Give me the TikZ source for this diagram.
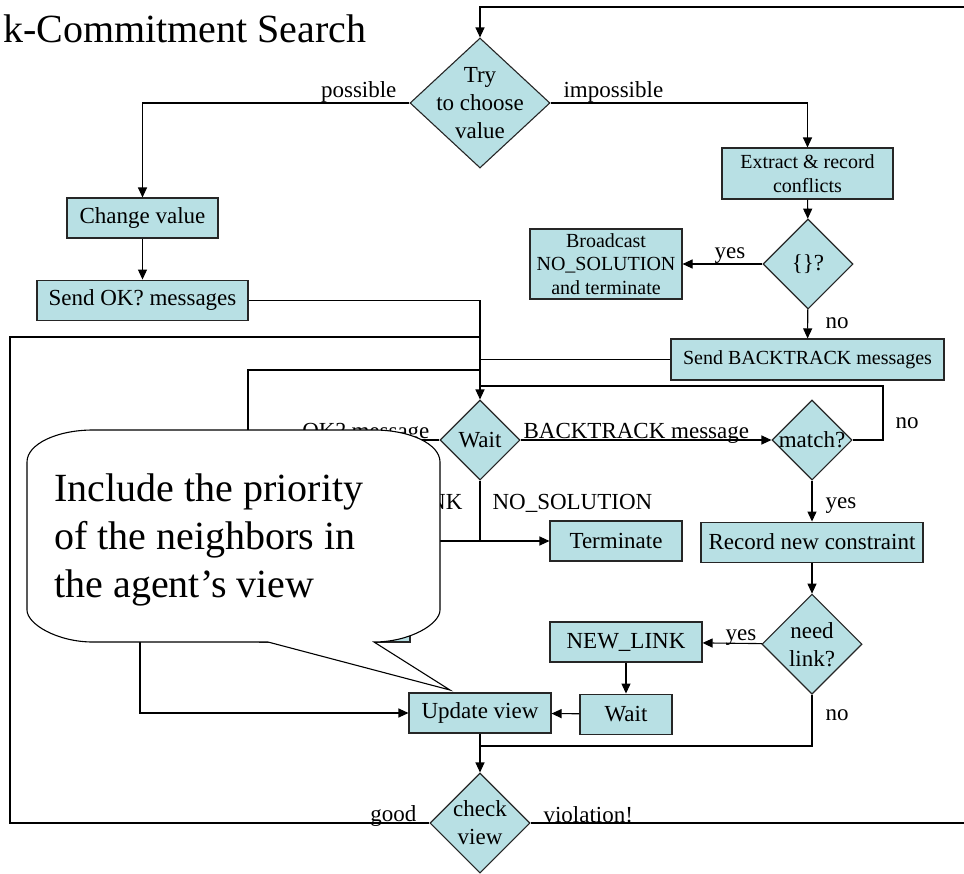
\documentclass[tikz,border=0pt]{standalone}
\usepackage{fontspec}
\setmainfont{Liberation Serif}
\usetikzlibrary{shapes.geometric, arrows.meta, positioning}
\definecolor{flowblue}{RGB}{184,224,228}
\newcommand{\flowfont}{\fontsize{23}{28}\selectfont}
\newcommand{\smallflow}{\fontsize{20}{23.5}\selectfont}

\begin{document}
\begin{tikzpicture}
        [
            x=1pt, y=-1pt, line width=1.1pt,
            >={Triangle[length=10pt, width=9pt]},
            box/.style={rectangle, draw=black!85, fill=flowblue, inner sep=0pt,
                        minimum height=40pt, font=\flowfont, align=center},
            decision/.style={diamond, draw=black!85, fill=flowblue, inner sep=0pt,
                             label={[font=\flowfont, align=center]center:#1}},
            lbl/.style={font=\flowfont, inner sep=0pt}
        ]
        \useasboundingbox (0,0) rectangle (964,873);
        \node (title) [anchor=base east, inner sep=0pt, font={\fontsize{40}{48}\selectfont}] at (367,42) {k-Commitment Search};

        \node (try) [decision={Try\\to choose\\value}, minimum width=140pt, minimum height=130pt] at (480,103) {};
        \node (change) [box, minimum width=151pt] at (142.5,218) {Change value};
        \node (sendok) [box, minimum width=211pt, below=41pt of change] {Send OK? messages};
        \node (extract) [box, minimum width=171pt, minimum height=51pt, font=\smallflow] at (807.5,173.5) {Extract \& record\\conflicts};
        \node (empty) [decision={\{\}?}, minimum width=90pt, minimum height=90pt] at (808,264) {};
        \node (broadcast) [box, minimum width=152pt, minimum height=70pt, font=\smallflow] at (606,264) {Broadcast\\NO\_SOLUTION\\and terminate};
        \node (sendbt) [box, minimum width=273pt, minimum height=41pt, font=\smallflow] at (807.5,359.5) {Send BACKTRACK messages};
        \node (wait) [decision=Wait, minimum width=80pt, minimum height=80pt] at (480,440) {};
        \node (match) [decision=match?, minimum width=80pt, minimum height=80pt] at (812,440) {};
        \node (term) [box, minimum width=132pt] at (616,541) {Terminate};
        \node (record) [box, minimum width=222pt, below=41pt of match] {Record new constraint};
        \node (needlink) [decision={need\\link?}, minimum width=100pt, minimum height=100pt, below=31pt of record] {};
        \node (newlink) [box, minimum width=152pt] at (626,642) {NEW\_LINK};
        \node (waitbox) [box, minimum width=92pt, below=31pt of newlink] {Wait};
        \node (update) [box, minimum width=142pt] at (480,713) {Update view};
        \node (check) [decision={check\\view}, minimum width=100pt, minimum height=100pt] at (480,823) {};
        \node (addlink) [box, minimum width=150pt] at (335,622) {};

        \coordinate (edge) at (975,7);
        \coordinate (lft) at (10,337);
        \coordinate (back) at (248,370);
        \coordinate (nobend) at (883,386);
        \coordinate (okbend) at (140,713);
        \coordinate (merge) at (480,746);

        \draw [->] (check.east) -| (edge) -| (try.north);
        \draw [->] (try.west) -| (change.north);
        \draw [->] (change) -- (sendok);
        \draw [->] (sendok.east) -| (wait.north);
        \draw [->] (try.east) -| (extract.north);
        \draw [->] (extract) -- (empty);
        \draw [->] (empty) -- (broadcast);
        \draw [->] (empty) -- (sendbt);
        \draw (sendbt.west) -- (sendbt.west -| wait.north);
        \draw (check.west) -| (lft) -- (lft -| wait.north);
        \draw (addlink.west) -| (back) -- (back -| wait.north);
        \draw (match.east) -| (nobend) -- (nobend -| wait.north);
        \draw [->] (wait) -- (match);
        \draw [->] (wait.south) |- (term.west);
        \draw [->] (wait.south |- term.west) -| (addlink.north);
        \draw [->] (wait.west) -| (okbend) -- (update.west);
        \draw [->] (match) -- (record);
        \draw [->] (record) -- (needlink);
        \draw [->] (needlink) -- (newlink);
        \draw [->] (newlink) -- (waitbox);
        \draw [->] (waitbox) -- (update);
        \draw [->] (update) -- (check);
        \draw (needlink.south) |- (merge);

        \node (l-possible) [lbl, anchor=base east] at (397,97) {possible};
        \node (l-impossible) [lbl, anchor=base west] at (563,97) {impossible};
        \node (l-empty-yes) [lbl, anchor=base west] at (714,258) {yes};
        \node (l-empty-no) [lbl, anchor=base west] at (825,328) {no};
        \node (l-ok) [lbl, anchor=base east] at (430,438) {OK? message};
        \node (l-add) [lbl, anchor=base east] at (463,509) {NK};
        \node (l-bt) [lbl, anchor=base west] at (523,438) {BACKTRACK message};
        \node (l-match-no) [lbl, anchor=base west] at (895,428) {no};
        \node (l-nosol) [lbl, anchor=base west] at (492,509) {NO\_SOLUTION};
        \node (l-match-yes) [lbl, anchor=base west] at (825,508) {yes};
        \node (l-need-yes) [lbl, anchor=base west] at (725,640) {yes};
        \node (l-need-no) [lbl, anchor=base west] at (825,720) {no};
        \node (l-good) [lbl, anchor=base east] at (417,821) {good};
        \node (l-viol) [lbl, anchor=base west] at (543,822) {violation!};

        % speech bubble over the left part
        \draw [fill=white] (268,642) -- (450,690) -- (374,642)
            .. controls (410,642) and (440,624) .. (440,610) -- (440,462)
            .. controls (440,444) and (410,430) .. (374,430) -- (93,430)
            .. controls (57,430) and (27,444) .. (27,462) -- (27,610)
            .. controls (27,624) and (57,642) .. (93,642) -- cycle;
        \node (note) [anchor=west, align=left, inner sep=0pt, font={\fontsize{40}{48}\selectfont}] at (54,540)
            {Include the priority\\of the neighbors in\\the agent’s view};
    \end{tikzpicture}
\end{document}
